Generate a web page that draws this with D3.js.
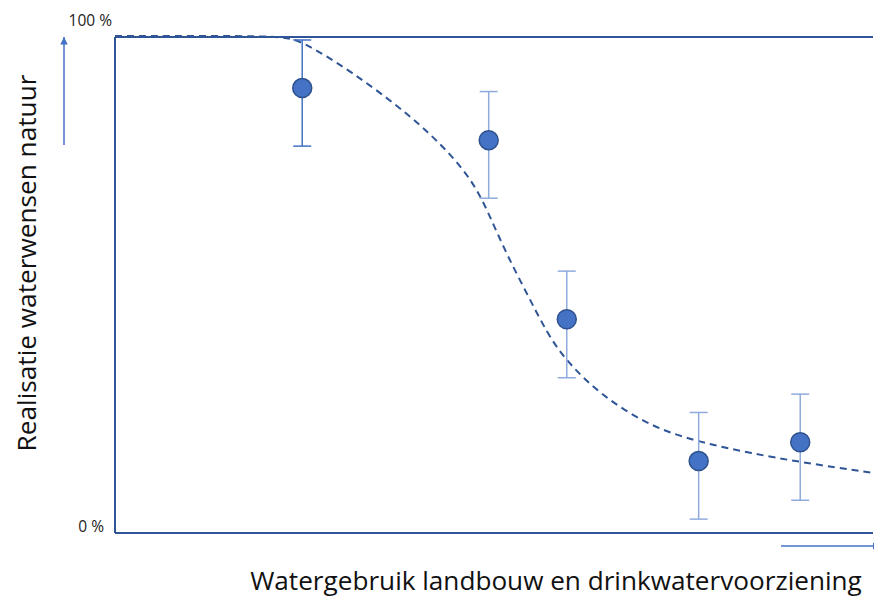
<!DOCTYPE html>
<html><head><meta charset="utf-8">
<script src="https://cdn.jsdelivr.net/npm/d3@7"></script>
<style>body{margin:0;background:#fff}svg{display:block}</style>
</head><body>
<svg id="c" width="874" height="597"></svg>
<script>
// data
const pointX = [24.7, 49.3, 59.6, 77.0, 90.4];
const pointY = [89.7, 79.2, 43.1, 14.5, 18.3];
const errHigh = [99.4, 89.0, 52.8, 24.3, 28.0];
const errLow = [78.0, 67.5, 31.3, 2.8, 6.6];
const curveX = [0, 10, 21.8, 24.4, 31.0, 38.9, 44.2, 47.5, 49.5, 51.7, 54.4, 57.0, 59.6, 64.4, 71.0, 77.2, 83.8, 90.4, 100];
const curveY = [100.2, 100.2, 100.2, 99.4, 93.3, 84.3, 76.6, 70.2, 63.7, 56.1, 48.1, 40.3, 34.5, 27.4, 21.2, 18.3, 16.1, 14.3, 12.1];
const yTickLabels = ["0 %", "100 %"];
const yTickValues = [0, 100];
const xTitle = "Watergebruik landbouw en drinkwatervoorziening";
const yTitle = "Realisatie waterwensen natuur";

const svg = d3.select("#c");
const font = "'Open Sans', sans-serif";
const x = d3.scaleLinear().domain([0, 100]).range([115, 873]);
const y = d3.scaleLinear().domain([0, 100]).range([533, 37]);

const defs = svg.append("defs");
defs.append("marker").attr("id", "ah").attr("viewBox", "0 0 10 10").attr("refX", 10).attr("refY", 5)
  .attr("markerWidth", 5).attr("markerHeight", 5).attr("orient", "auto-start-reverse")
  .append("path").attr("d", "M0,0L10,5L0,10z").attr("fill", "#4472C4");

// frame
const frame = svg.append("g").attr("stroke", "#2F5597").attr("stroke-width", 2).attr("fill", "none");
frame.append("line").attr("x1", x(0)).attr("x2", x(100)).attr("y1", y(100)).attr("y2", y(100));
frame.append("line").attr("x1", x(0)).attr("x2", x(0)).attr("y1", y(100)).attr("y2", y(0));
frame.append("line").attr("x1", x(0)).attr("x2", x(100)).attr("y1", y(0)).attr("y2", y(0));

// axis arrows
svg.append("line").attr("x1", 64).attr("x2", 64).attr("y1", 145).attr("y2", 37)
  .attr("stroke", "#4472C4").attr("stroke-width", 1.5).attr("marker-end", "url(#ah)");
svg.append("line").attr("x1", 781).attr("x2", 880).attr("y1", 546).attr("y2", 546)
  .attr("stroke", "#4472C4").attr("stroke-width", 1.5).attr("marker-end", "url(#ah)");

// tick labels
svg.append("g").selectAll("text").data(yTickValues).join("text")
  .attr("x", d => d === 0 ? 104 : 112).attr("y", d => d === 0 ? y(d) - 1 : y(d) - 11)
  .attr("text-anchor", "end").attr("font-family", font).attr("font-size", 15.5).attr("fill", "#222")
  .text((d, i) => yTickLabels[i]);

// dashed curve
const curveData = curveX.map((v, i) => [v, curveY[i]]);
svg.append("path").datum(curveData)
  .attr("d", d3.line().x(d => x(d[0])).y(d => y(d[1])).curve(d3.curveBasis))
  .attr("fill", "none").attr("stroke", "#2F5597").attr("stroke-width", 2).attr("stroke-dasharray", "7,5");

// error bars
const pts = pointX.map((v, i) => ({x: v, y: pointY[i], hi: errHigh[i], lo: errLow[i], i}));
const eb = svg.append("g").selectAll("g").data(pts).join("g")
  .attr("stroke", d => d.i === 0 ? "#4472C4" : "#8FAADC").attr("stroke-width", 1.5);
eb.append("line").attr("x1", d => x(d.x)).attr("x2", d => x(d.x)).attr("y1", d => y(d.hi)).attr("y2", d => y(d.lo));
eb.append("line").attr("x1", d => x(d.x) - 9).attr("x2", d => x(d.x) + 9).attr("y1", d => y(d.hi)).attr("y2", d => y(d.hi));
eb.append("line").attr("x1", d => x(d.x) - 9).attr("x2", d => x(d.x) + 9).attr("y1", d => y(d.lo)).attr("y2", d => y(d.lo));

// points
svg.append("g").selectAll("circle").data(pts).join("circle")
  .attr("cx", d => x(d.x)).attr("cy", d => y(d.y)).attr("r", 9.5)
  .attr("fill", "#4472C4").attr("stroke", "#2F528F").attr("stroke-width", 1.5);

// titles, sized to fit the reference widths
function fit(sel, w) {
  const l = sel.node().getComputedTextLength();
  const s = +sel.attr("font-size");
  sel.attr("font-size", s * w / l);
}
const xt = svg.append("text").attr("x", 556).attr("y", 590).attr("text-anchor", "middle")
  .attr("font-family", font).attr("font-size", 24).attr("fill", "#111").text(xTitle);
fit(xt, 612);
const yt = svg.append("text").attr("transform", "translate(36,263) rotate(-90)").attr("text-anchor", "middle")
  .attr("font-family", font).attr("font-size", 24).attr("fill", "#111").text(yTitle);
fit(yt, 377);
</script>
</body></html>
